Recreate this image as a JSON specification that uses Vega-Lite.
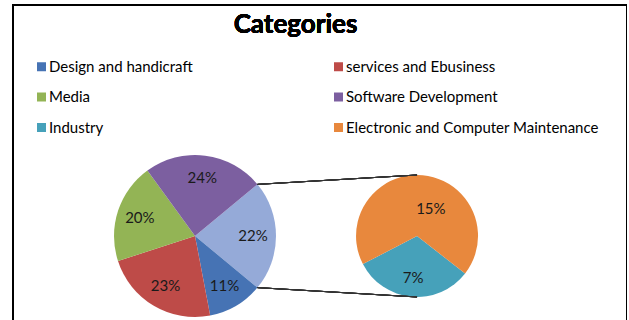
{
  "$schema": "https://vega.github.io/schema/vega-lite/v6.json",
  "width": 614,
  "height": 320,
  "autosize": {"type": "none"},
  "padding": {"left": 13, "top": 5, "right": 0, "bottom": 0},
  "background": "white",
  "config": {
    "view": {"stroke": "black", "strokeWidth": 2},
    "font": "Lato"
  },
  "data": {
    "values": [
      {"category": "Other", "share": 0.22, "pie": "Main"},
      {"category": "Design and handicraft", "share": 0.11, "pie": "Main"},
      {"category": "services and Ebusiness", "share": 0.23, "pie": "Main"},
      {"category": "Media", "share": 0.20, "pie": "Main"},
      {"category": "Software Development", "share": 0.24, "pie": "Main"},
      {"category": "Industry", "share": 0.07, "pie": "Breakdown"},
      {"category": "Electronic and Computer Maintenance", "share": 0.15, "pie": "Breakdown"}
    ]
  },
  "transform": [
    {"calculate": "indexof(['Other', 'Design and handicraft', 'services and Ebusiness', 'Media', 'Software Development', 'Industry', 'Electronic and Computer Maintenance'], datum.category)", "as": "sliceOrder"}
  ],
  "resolve": {"scale": {"theta": "independent"}},
  "layer": [
    {
      "transform": [{"filter": "datum.pie === 'Main'"}],
      "mark": {"type": "arc", "outerRadius": 81},
      "encoding": {
        "x": {"datum": 0, "type": "quantitative", "scale": {"domain": [-2.247, 5.333], "nice": false, "zero": false}, "axis": null},
        "y": {"datum": 0, "type": "quantitative", "scale": {"domain": [-1.099, 2.852], "nice": false, "zero": false}, "axis": null},
        "theta": {"field": "share", "type": "quantitative", "stack": true, "scale": {"range": [0.8796, 7.1628]}},
        "order": {"field": "sliceOrder", "type": "quantitative", "sort": "ascending"},
        "color": {
          "field": "category",
          "type": "nominal",
          "scale": {
            "domain": ["Design and handicraft", "services and Ebusiness", "Media", "Software Development", "Industry", "Electronic and Computer Maintenance", "Other"],
            "range": ["#4673B4", "#BE4B48", "#93B455", "#7C5FA0", "#46A1BA", "#E8883D", "#95AAD8"]
          },
          "legend": {
            "values": ["Design and handicraft", "services and Ebusiness", "Media", "Software Development", "Industry", "Electronic and Computer Maintenance"],
            "orient": "none",
            "direction": "horizontal",
            "legendX": 21,
            "legendY": 54,
            "columns": 2,
            "columnPadding": 138,
            "rowPadding": 14.5,
            "symbolType": "square",
            "symbolSize": 81,
            "symbolStrokeWidth": 0,
            "labelFontSize": 15,
            "labelFont": "Lato",
            "labelColor": "black",
            "labelOffset": 0,
            "labelLimit": 400,
            "padding": 0,
            "title": null
          }
        }
      }
    },
    {
      "transform": [{"filter": "datum.pie === 'Main'"}],
      "mark": {"type": "text", "radius": 58, "fontSize": 15, "font": "Lato", "color": "#1a1a1a"},
      "encoding": {
        "x": {"datum": 0, "type": "quantitative"},
        "y": {"datum": 0, "type": "quantitative"},
        "theta": {"field": "share", "type": "quantitative", "stack": true, "scale": {"range": [0.8796, 7.1628]}},
        "order": {"field": "sliceOrder", "type": "quantitative", "sort": "ascending"},
        "detail": {"field": "category", "type": "nominal"},
        "text": {"field": "share", "type": "quantitative", "format": ".0%"}
      }
    },
    {
      "transform": [{"filter": "datum.pie === 'Breakdown'"}],
      "mark": {"type": "arc", "outerRadius": 61},
      "encoding": {
        "x": {"datum": 2.741, "type": "quantitative"},
        "y": {"datum": 0, "type": "quantitative"},
        "theta": {"field": "share", "type": "quantitative", "stack": true, "scale": {"range": [2.234, 8.517]}},
        "order": {"field": "sliceOrder", "type": "quantitative", "sort": "ascending"},
        "color": {"field": "category", "type": "nominal"}
      }
    },
    {
      "transform": [{"filter": "datum.pie === 'Breakdown'"}],
      "mark": {
        "type": "text",
        "radius": {"expr": "datum.category === 'Industry' ? 42 : 31"},
        "dx": {"expr": "datum.category === 'Industry' ? 0 : 11"},
        "dy": {"expr": "datum.category === 'Industry' ? 0 : 4"},
        "fontSize": 15,
        "font": "Lato",
        "color": "#1a1a1a"
      },
      "encoding": {
        "x": {"datum": 2.741, "type": "quantitative"},
        "y": {"datum": 0, "type": "quantitative"},
        "theta": {"field": "share", "type": "quantitative", "stack": true, "scale": {"range": [2.234, 8.517]}},
        "order": {"field": "sliceOrder", "type": "quantitative", "sort": "ascending"},
        "detail": {"field": "category", "type": "nominal"},
        "text": {"field": "share", "type": "quantitative", "format": ".0%"}
      }
    },
    {
      "mark": {"type": "rule", "color": "#333333", "strokeWidth": 1},
      "encoding": {
        "x": {"datum": 0.7705, "type": "quantitative"},
        "y": {"datum": 0.6374, "type": "quantitative"},
        "x2": {"datum": 2.741},
        "y2": {"datum": 0.753}
      }
    },
    {
      "mark": {"type": "rule", "color": "#333333", "strokeWidth": 1},
      "encoding": {
        "x": {"datum": 0.7705, "type": "quantitative"},
        "y": {"datum": -0.6374, "type": "quantitative"},
        "x2": {"datum": 2.741},
        "y2": {"datum": -0.753}
      }
    },
    {
      "mark": {"type": "text", "font": "Lato", "fontSize": 26, "fontWeight": "bold", "color": "black", "align": "center", "baseline": "alphabetic"},
      "encoding": {
        "x": {"datum": 1.2407, "type": "quantitative"},
        "y": {"datum": 2.506, "type": "quantitative"},
        "text": {"value": "Categories"}
      }
    }
  ]
}
